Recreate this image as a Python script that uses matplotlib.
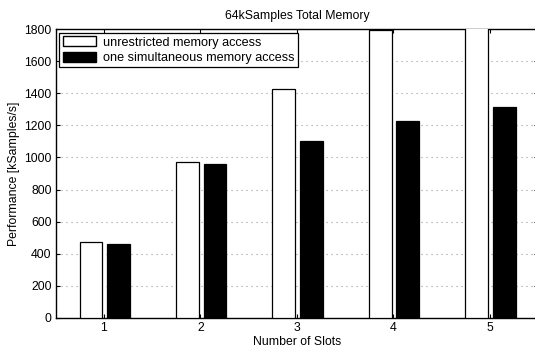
import numpy as np
import matplotlib
matplotlib.use("Agg")
import matplotlib.pyplot as plt
from matplotlib.patches import Patch

plt.rcParams['font.family'] = ['Liberation Sans', 'DejaVu Sans']

slots = [1, 2, 3, 4, 5]
unrestricted = [475, 970, 1425, 1795, 2150]
one_access = [460, 960, 1100, 1228, 1316]
yticks = [0, 200, 400, 600, 800, 1000, 1200, 1400, 1600, 1800]

fig = plt.figure(figsize=(5.35, 3.52), dpi=100)
# axes runs slightly past the right edge, like the cropped original
ax = fig.add_axes([55.7 / 535, 34 / 352, (538 - 55.7) / 535, 289 / 352])

x = np.array(slots)
width = 0.235
ax.bar(x - 0.135, unrestricted, width, color='white', edgecolor='black', linewidth=0.9,
       label='unrestricted memory access', zorder=3)
ax.bar(x + 0.15, one_access, width, color='black', edgecolor='black', linewidth=0.9,
       label='one simultaneous memory access', zorder=3)

ax.set_xlim(0.5, 5.5)
ax.set_ylim(0, 1800)
ax.set_xticks(slots)
ax.set_yticks(yticks)
ax.yaxis.grid(True, linestyle=(0, (1, 3.5)), color='#9a9a9a', linewidth=0.8, zorder=0)
ax.tick_params(direction='in', top=True, right=True, labelsize=8.8, length=3, pad=3)
for s in ax.spines.values():
    s.set_linewidth(1.0)

ax.set_title('64kSamples Total Memory', fontsize=8.8, pad=7)
ax.set_xlabel('Number of Slots', fontsize=8.8, labelpad=1)
ax.set_ylabel('Performance [kSamples/s]', fontsize=8.8, labelpad=3)

handles = [Patch(facecolor='white', edgecolor='black', label='unrestricted memory access'),
           Patch(facecolor='black', edgecolor='black', label='one simultaneous memory access')]
leg = ax.legend(handles=handles, loc='upper left', fontsize=9.1, fancybox=False,
                framealpha=1, edgecolor='black', borderaxespad=0.3, handlelength=2.6,
                handleheight=0.9, borderpad=0.25, labelspacing=0.25, handletextpad=0.6)
leg.get_frame().set_linewidth(0.9)

fig.savefig('out.png', dpi=100)
